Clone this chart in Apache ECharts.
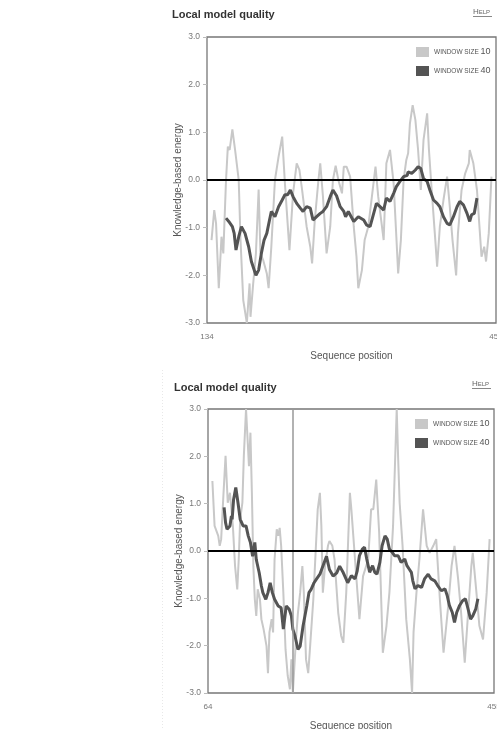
<!DOCTYPE html>
<html>
<head>
<meta charset="utf-8">
<script src="https://cdn.jsdelivr.net/npm/echarts@6/dist/echarts.min.js"></script>
<style>
html,body{margin:0;padding:0;background:#fff;}
#c{width:497px;height:729px;}
</style>
</head>
<body>
<div id="c"></div>
<script>
// ---------- Panel 1 (positions 134 - 453) ----------
const top_xRange = [134, 453];
const top_w10_pos = [139,142,144,147,150,152,155,157,159,162,165,169,171,174,178,181,182,185,188,191,193,196,200,202,205,209,213,217,220,225,229,233,236,239,244,248,250,253,257,259,262,266,270,273,276,279,283,285,288,292,296,299,301,305,308,312,316,320,323,329,332,336,340,343,345,348,351,354,356,358,361,364,367,370,373,377,379,382,386,388,391,395,399,402,405,409,411,415,419,423,424,428,432,435,437,440,442,445,448];
const top_w10_val = [-1.26,-0.63,-0.91,-2.27,-1.19,-1.54,0.00,0.70,0.63,1.06,0.63,0.00,-1.26,-2.52,-3.00,-2.17,-2.87,-2.17,-1.54,-0.20,-1.54,-1.68,-1.96,-2.27,-1.40,0.00,0.49,0.91,-0.07,-1.47,-0.28,0.35,0.21,-0.21,-0.98,-1.40,-1.75,-0.84,0.00,0.35,-0.35,-1.54,-0.98,0.00,0.30,0.00,-0.28,0.28,0.28,0.07,-0.98,-1.61,-2.27,-1.89,-1.26,-0.98,-0.35,0.28,-0.35,-1.26,0.35,0.63,-0.07,-1.19,-1.96,-1.26,0.00,0.42,0.56,1.19,1.57,1.26,0.63,-0.21,0.84,1.40,0.63,-0.21,-1.26,-1.82,-0.98,-0.42,0.07,-0.56,-1.26,-2.00,-1.12,-0.21,0.14,0.35,0.63,0.35,-0.21,-1.05,-1.61,-1.40,-1.71,-1.12,0.07];
const top_w40_pos = [155,158,159,162,164,166,169,172,176,180,183,188,191,194,197,200,203,205,209,213,217,220,223,226,229,233,237,240,244,248,251,255,259,262,266,270,273,277,281,285,287,290,296,301,307,310,314,318,321,325,329,332,336,340,343,347,351,355,356,360,364,367,370,373,377,380,384,388,391,395,399,402,406,410,413,417,421,424,426,429,432];
const top_w40_val = [-0.80,-0.87,-0.91,-0.98,-1.12,-1.47,-1.19,-0.98,-1.12,-1.40,-1.71,-2.00,-1.89,-1.54,-1.26,-1.12,-0.84,-0.66,-0.77,-0.56,-0.42,-0.31,-0.31,-0.21,-0.35,-0.49,-0.59,-0.66,-0.56,-0.59,-0.84,-0.77,-0.70,-0.66,-0.56,-0.35,-0.21,-0.33,-0.56,-0.66,-0.77,-0.66,-0.87,-0.77,-0.84,-0.94,-0.98,-0.70,-0.49,-0.56,-0.63,-0.38,-0.45,-0.28,-0.14,-0.03,0.07,0.10,0.17,0.14,0.21,0.28,0.24,0.03,-0.03,-0.21,-0.42,-0.49,-0.56,-0.77,-0.91,-0.94,-0.77,-0.56,-0.45,-0.52,-0.70,-0.87,-0.73,-0.70,-0.38];

// ---------- Panel 2 (positions 64 - 455) ----------
const bot_xRange = [64, 455];
const bot_marker = 180;
const bot_w10_pos = [70,73,78,80,82,85,88,91,94,96,98,101,104,106,108,111,113,116,117,120,122,124,126,128,130,132,135,137,140,144,146,148,151,153,155,158,160,162,164,167,170,173,176,178,180,184,187,190,193,195,198,201,203,208,212,214,217,219,221,224,228,230,234,237,242,246,249,253,258,260,265,271,276,283,287,290,294,298,303,308,312,317,322,324,326,330,335,340,343,345,349,353,358,363,367,372,376,381,386,392,397,401,406,410,415,419,424,426,431,435,440,445,449];
const bot_w10_val = [1.48,0.53,0.32,0.11,0.25,1.16,2.01,1.02,1.23,0.88,0.53,-0.32,-0.81,-0.18,0.67,1.02,2.01,3.00,2.99,1.79,2.50,1.23,-0.32,-1.02,-1.37,-0.81,-1.02,-1.44,-1.65,-2.01,-2.58,-1.72,-1.44,-1.72,-0.18,0.46,0.32,0.49,0.11,-0.88,-2.08,-2.64,-2.92,-2.29,-3.00,-1.93,-1.30,-0.88,-0.32,-0.88,-2.29,-2.58,-2.15,-1.02,0.25,0.88,1.23,0.53,-0.88,-0.32,0.11,0.21,0.11,-0.18,-1.30,-1.79,-1.94,-0.88,1.23,0.88,-0.18,-1.44,-0.53,-0.18,0.88,0.88,1.51,0.39,-2.15,-1.58,-0.88,0.53,3.00,1.94,1.02,0.11,-1.44,-2.29,-3.00,-1.72,-0.88,-0.18,0.88,0.11,-0.04,0.11,0.25,-1.02,-2.15,-1.23,-0.32,0.11,-0.60,-1.30,-2.36,-1.44,-0.32,-0.04,-0.88,-1.58,-1.87,-0.88,0.25];
const bot_w40_pos = [86,88,90,94,96,97,99,102,105,108,112,116,119,122,125,128,130,134,137,139,143,146,149,152,155,160,164,167,171,175,178,180,183,187,190,194,199,202,205,209,212,217,221,226,230,235,240,244,249,255,260,265,268,271,275,278,281,285,289,292,295,299,302,306,309,312,316,319,324,328,333,336,339,342,344,347,351,356,360,365,369,374,378,383,388,391,394,398,401,404,408,412,416,419,423,426,430,433];
const bot_w40_val = [0.92,0.60,0.46,0.53,0.74,0.67,1.09,1.34,1.02,0.67,0.53,0.53,0.32,0.18,-0.11,0.18,-0.18,-0.46,-0.74,-0.88,-1.02,-0.88,-0.67,-0.88,-1.02,-1.16,-1.20,-1.65,-1.16,-1.23,-1.37,-1.65,-1.80,-2.08,-2.01,-1.58,-1.16,-0.88,-0.81,-0.67,-0.60,-0.49,-0.32,-0.11,-0.39,-0.53,-0.46,-0.32,-0.46,-0.67,-0.52,-0.59,-0.42,-0.10,0.04,0.08,-0.17,-0.45,-0.31,-0.45,-0.49,-0.24,0.11,0.32,0.25,0.04,-0.03,-0.10,-0.10,-0.24,-0.17,-0.31,-0.38,-0.45,-0.63,-0.80,-0.73,-0.77,-0.59,-0.49,-0.59,-0.63,-0.73,-0.84,-0.80,-0.94,-1.15,-1.30,-1.51,-1.30,-1.15,-1.05,-1.01,-1.19,-1.44,-1.37,-1.23,-1.01];

const yTicks = [-3, -2, -1, 0, 1, 2, 3];
const titleText = 'Local model quality';
const yName = 'Knowledge-based energy';
const xName = 'Sequence position';
const nameW10 = 'window size 10';
const nameW40 = 'window size 40';

function zip(a, b) { return a.map((v, i) => [v, b[i]]); }

const FONT = '"Liberation Sans", Arial, sans-serif';
const LIGHT = '#c8c8c8';
const DARK = '#545454';

function grid(left, top, w, h) {
  return { left, top, width: w, height: h, show: true, borderColor: '#777', borderWidth: 1.3, backgroundColor: 'transparent', containLabel: false, outerBoundsMode: 'none' };
}
function xAxisFor(gi, range) {
  return {
    gridIndex: gi, type: 'value', min: range[0], max: range[1],
    axisLine: { show: false }, axisTick: { show: false }, splitLine: { show: false },
    axisLabel: { customValues: range, color: '#777', fontSize: 8, margin: 10, fontFamily: FONT },
    name: xName, nameLocation: 'middle', nameGap: 28,
    nameTextStyle: { color: '#555', fontSize: 10, fontFamily: FONT }
  };
}
function yAxisFor(gi) {
  return {
    gridIndex: gi, type: 'value', min: yTicks[0], max: yTicks[yTicks.length - 1], interval: 1,
    axisLine: { show: false }, splitLine: { show: false },
    axisTick: { show: true, length: 4, lineStyle: { color: '#bbb' } },
    axisLabel: { color: '#777', fontSize: 8.5, margin: 7, fontFamily: FONT, formatter: v => v.toFixed(1) },
    name: yName, nameLocation: 'middle', nameGap: 24, nameRotate: 90, nameMoveOverlap: false,
    nameTextStyle: { color: '#555', fontSize: 10, fontFamily: FONT }
  };
}
function legendFor(left, top) {
  return {
    left, top, orient: 'vertical', itemWidth: 13, itemHeight: 10, itemGap: 9, padding: 0,
    icon: 'rect', data: [nameW10, nameW40],
    formatter: n => { const p = n.toUpperCase().split(' '); return '{s|' + p[0] + ' ' + p[1] + ' }{n|' + p[2] + '}'; },
    textStyle: {
      color: '#555', fontFamily: FONT, fontSize: 9,
      rich: { s: { fontSize: 6.5, color: '#555', fontFamily: FONT }, n: { fontSize: 9, color: '#555', fontFamily: FONT } }
    },
    selectedMode: false
  };
}
const zeroLine = {
  silent: true, symbol: 'none', label: { show: false },
  lineStyle: { color: '#000', width: 2, type: 'solid' },
  data: [{ yAxis: 0 }], animation: false
};
const helpRich = { a: { fontSize: 8, fill: '#666', fontFamily: FONT }, b: { fontSize: 6, fill: '#666', fontFamily: FONT } };

const option = {
  animation: false,
  backgroundColor: '#fff',
  title: [
    { text: titleText, left: 167, top: 4, textStyle: { fontSize: 11, fontWeight: 'bold', color: '#333', fontFamily: FONT } },
    { text: titleText, left: 169, top: 377, textStyle: { fontSize: 11, fontWeight: 'bold', color: '#333', fontFamily: FONT } }
  ],
  grid: [grid(207, 37, 289, 286), grid(208, 409, 286, 284)],
  xAxis: [xAxisFor(0, top_xRange), xAxisFor(1, bot_xRange)],
  yAxis: [yAxisFor(0), yAxisFor(1)],
  legend: [legendFor(416, 47), legendFor(415, 419)],
  series: [
    { name: nameW10, type: 'line', xAxisIndex: 0, yAxisIndex: 0, data: zip(top_w10_pos, top_w10_val), showSymbol: false, symbol: 'none', color: LIGHT, lineStyle: { color: LIGHT, width: 2 }, z: 2 },
    { name: nameW40, type: 'line', xAxisIndex: 0, yAxisIndex: 0, data: zip(top_w40_pos, top_w40_val), showSymbol: false, symbol: 'none', color: DARK, lineStyle: { color: DARK, width: 3 }, z: 3, markLine: zeroLine },
    { name: nameW10, type: 'line', xAxisIndex: 1, yAxisIndex: 1, data: zip(bot_w10_pos, bot_w10_val), showSymbol: false, symbol: 'none', color: LIGHT, lineStyle: { color: LIGHT, width: 2 }, z: 2,
      markLine: { silent: true, symbol: 'none', label: { show: false }, lineStyle: { color: '#999', width: 1.5, type: 'solid' }, data: [{ xAxis: bot_marker }] } },
    { name: nameW40, type: 'line', xAxisIndex: 1, yAxisIndex: 1, data: zip(bot_w40_pos, bot_w40_val), showSymbol: false, symbol: 'none', color: DARK, lineStyle: { color: DARK, width: 3 }, z: 3, markLine: zeroLine }
  ],
  graphic: [
    { type: 'text', left: 473, top: 8, style: { text: '{a|H}{b|ELP}', rich: helpRich } },
    { type: 'line', shape: { x1: 473, y1: 16.5, x2: 492, y2: 16.5 }, style: { stroke: '#888', lineWidth: 1 } },
    { type: 'text', left: 472, top: 380, style: { text: '{a|H}{b|ELP}', rich: helpRich } },
    { type: 'line', shape: { x1: 472, y1: 388.5, x2: 491, y2: 388.5 }, style: { stroke: '#888', lineWidth: 1 } },
    { type: 'line', shape: { x1: 162.5, y1: 370, x2: 162.5, y2: 729 }, style: { stroke: '#e8e8e8', lineWidth: 1, lineDash: [1, 2] } }
  ]
};

const chart = echarts.init(document.getElementById('c'), null, { renderer: 'canvas' });
chart.setOption(option);
</script>
</body>
</html>
